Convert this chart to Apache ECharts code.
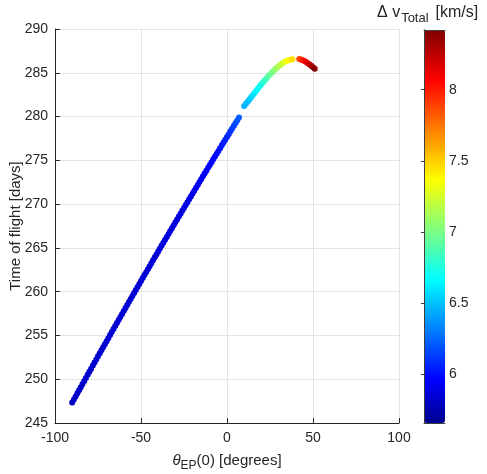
<!DOCTYPE html>
<html><head><meta charset="utf-8">
<script src="https://cdn.jsdelivr.net/npm/echarts@6/dist/echarts.min.js"></script>
<style>html,body{margin:0;padding:0;background:#fff}#c{width:487px;height:474px}</style>
</head><body><div id="c"></div>
<script>
// ---- data ----
const thetaBlue = [-90,-89,-88,-87,-86,-85,-84,-83,-82,-81,-80,-79,-78,-77,-76,-75,-74,-73,-72,-71,-70,-69,-68,-67,-66,-65,-64,-63,-62,-61,-60,-59,-58,-57,-56,-55,-54,-53,-52,-51,-50,-49,-48,-47,-46,-45,-44,-43,-42,-41,-40,-39,-38,-37,-36,-35,-34,-33,-32,-31,-30,-29,-28,-27,-26,-25,-24,-23,-22,-21,-20,-19,-18,-17,-16,-15,-14,-13,-12,-11,-10,-9,-8,-7,-6,-5,-4,-3,-2,-1,0,1,2,3,4,5,6,7];
const tofBlue = [247.33,247.68,248.03,248.39,248.74,249.09,249.45,249.80,250.15,250.50,250.86,251.21,251.56,251.91,252.26,252.61,252.96,253.30,253.65,254.00,254.35,254.69,255.04,255.39,255.74,256.08,256.43,256.77,257.12,257.46,257.80,258.14,258.49,258.83,259.17,259.51,259.85,260.19,260.53,260.87,261.21,261.55,261.89,262.23,262.57,262.90,263.24,263.58,263.92,264.25,264.59,264.92,265.26,265.59,265.92,266.25,266.59,266.92,267.25,267.58,267.92,268.25,268.58,268.91,269.24,269.57,269.90,270.22,270.55,270.88,271.21,271.53,271.86,272.19,272.52,272.84,273.17,273.49,273.82,274.14,274.46,274.78,275.11,275.43,275.75,276.07,276.39,276.71,277.03,277.35,277.67,277.99,278.31,278.63,278.95,279.26,279.58,279.90];
const dvBlue = [5.80,5.80,5.81,5.81,5.82,5.82,5.82,5.83,5.83,5.83,5.83,5.83,5.83,5.83,5.83,5.83,5.83,5.83,5.83,5.83,5.84,5.84,5.84,5.84,5.84,5.84,5.84,5.84,5.84,5.84,5.84,5.84,5.84,5.84,5.84,5.84,5.84,5.84,5.85,5.85,5.85,5.85,5.85,5.85,5.85,5.85,5.85,5.85,5.85,5.85,5.86,5.86,5.86,5.86,5.86,5.86,5.86,5.86,5.87,5.87,5.87,5.87,5.88,5.88,5.88,5.88,5.89,5.89,5.89,5.90,5.90,5.90,5.91,5.91,5.92,5.92,5.93,5.94,5.94,5.95,5.95,5.96,5.97,5.98,5.99,6.00,6.01,6.02,6.03,6.05,6.06,6.08,6.10,6.12,6.14,6.16,6.19,6.22];

const thetaArc = [10,11,12,13,14,15,16,17,18,19,20,21,22,23,24,25,26,27,28,29,30,31,32,33,34,35,36,37,38];
const tofArc = [281.2,281.45,281.7,281.95,282.2,282.45,282.7,282.95,283.2,283.45,283.7,283.93,284.15,284.38,284.6,284.8,285.0,285.2,285.4,285.58,285.75,285.9,286.05,286.18,286.3,286.38,286.45,286.5,286.55];
const dvArc = [6.45,6.47,6.49,6.51,6.54,6.57,6.60,6.63,6.66,6.69,6.72,6.76,6.80,6.85,6.90,6.94,6.98,7.02,7.06,7.10,7.14,7.18,7.22,7.26,7.30,7.33,7.37,7.41,7.45];

const thetaRed = [42,43,44,45,46,47,48,49,50,51];
const tofRed = [286.57,286.52,286.44,286.34,286.22,286.09,285.95,285.80,285.63,285.45];
const dvRed = [7.86,7.92,7.98,8.04,8.10,8.16,8.22,8.28,8.34,8.40];

const xTicks = [-100, -50, 0, 50, 100];
const yTicks = [245, 250, 255, 260, 265, 270, 275, 280, 285, 290];
const cbTicks = [6, 6.5, 7, 7.5, 8];
const cbMin = 5.655, cbMax = 8.42;

// ---- jet colormap (64 levels) ----
function jet(n) {
  const c = v => Math.max(0, Math.min(1, v));
  const out = [];
  for (let i = 0; i < n; i++) {
    const x = (i + 1) / n;
    const r = c(1.5 - Math.abs(4 * x - 3)), g = c(1.5 - Math.abs(4 * x - 2)), b = c(1.5 - Math.abs(4 * x - 1));
    out.push('rgb(' + Math.round(r * 255) + ',' + Math.round(g * 255) + ',' + Math.round(b * 255) + ')');
  }
  return out;
}

const pts = [];
[[thetaBlue, tofBlue, dvBlue], [thetaArc, tofArc, dvArc], [thetaRed, tofRed, dvRed]].forEach(([a, b, c]) => {
  a.forEach((t, i) => pts.push([t, b[i], c[i]]));
});

const FONT = 'Liberation Sans';
const TXT = '#262626';
const chart = echarts.init(document.getElementById('c'));
chart.setOption({
  animation: false,
  backgroundColor: '#fff',
  title: {
    text: '{m|\u0394 v}{s|Total}{k|[km/s]}',
    left: 377, top: 0, padding: 0,
    textStyle: {
      fontWeight: 'normal',
      rich: {
        m: { fontFamily: FONT, fontSize: 16, fontWeight: 'normal', color: TXT },
        k: { fontFamily: FONT, fontSize: 16, fontWeight: 'normal', color: TXT, padding: [0, 0, 0, 7] },
        s: { fontFamily: FONT, fontSize: 13, fontWeight: 'normal', color: TXT, padding: [12, 0, 0, 1] }
      }
    }
  },
  grid: [
    { left: 55, top: 29, width: 344, height: 394, outerBoundsMode: 'none', containLabel: false },
    { left: 424, top: 30, width: 21, height: 393, outerBoundsMode: 'none', containLabel: false }
  ],
  xAxis: [
    {
      gridIndex: 0, type: 'value', min: xTicks[0], max: xTicks[xTicks.length - 1], interval: 50,
      axisLine: { onZero: false, lineStyle: { color: TXT, width: 1 } },
      axisTick: { inside: true, length: 5, lineStyle: { color: TXT } },
      axisLabel: { color: TXT, fontFamily: FONT, fontSize: 14, margin: 8 },
      splitLine: { show: true, lineStyle: { color: '#e3e3e3', width: 1 } },
      name: '{th|\u03b8}{s|EP}{m|(0) [degrees]}', nameLocation: 'middle', nameGap: 27,
      nameTextStyle: {
        rich: {
          th: { fontFamily: FONT, fontSize: 15, fontStyle: 'italic', color: TXT },
          m: { fontFamily: FONT, fontSize: 15, color: TXT },
          s: { fontFamily: FONT, fontSize: 12, color: TXT, padding: [10, 0, 0, 0] }
        }
      }
    },
    { gridIndex: 1, type: 'value', min: 0, max: 1, position: 'bottom', z: 10,
      axisLine: { show: true, lineStyle: { color: '#404040' } }, axisTick: { show: false }, axisLabel: { show: false }, splitLine: { show: false } },
    { gridIndex: 1, type: 'value', min: 0, max: 1, position: 'top', z: 10,
      axisLine: { show: true, lineStyle: { color: '#404040' } }, axisTick: { show: false }, axisLabel: { show: false }, splitLine: { show: false } }
  ],
  yAxis: [
    {
      gridIndex: 0, type: 'value', min: yTicks[0], max: yTicks[yTicks.length - 1], interval: 5,
      axisLine: { show: true, onZero: false, lineStyle: { color: TXT, width: 1 } },
      axisTick: { show: true, inside: true, length: 5, lineStyle: { color: TXT } },
      axisLabel: { color: TXT, fontFamily: FONT, fontSize: 14, margin: 7 },
      splitLine: { show: true, lineStyle: { color: '#e3e3e3', width: 1 } },
      name: 'Time of flight [days]', nameLocation: 'middle', nameGap: 32, nameMoveOverlap: false,
      nameTextStyle: { fontFamily: FONT, fontSize: 15, color: TXT }
    },
    {
      gridIndex: 1, type: 'value', min: cbMin, max: cbMax, position: 'right', z: 10,
      axisLine: { show: true, lineStyle: { color: '#404040' } },
      axisTick: { show: true, inside: true, length: 3, customValues: cbTicks, lineStyle: { color: '#404040' } },
      axisLabel: { show: true, customValues: cbTicks, color: TXT, fontFamily: FONT, fontSize: 14, margin: 4 },
      splitLine: { show: false }
    },
    {
      gridIndex: 1, type: 'value', min: cbMin, max: cbMax, position: 'left', z: 10,
      axisLine: { show: true, lineStyle: { color: '#404040' } },
      axisTick: { show: false }, axisLabel: { show: false }, splitLine: { show: false }
    }
  ],
  visualMap: {
    type: 'continuous', min: cbMin, max: cbMax, dimension: 2, seriesIndex: 0,
    calculable: false, text: null, showLabel: false, padding: 0,
    left: 424, top: 30, itemWidth: 21, itemHeight: 393,
    inRange: { color: jet(64) }
  },
  series: [
    {
      type: 'scatter', xAxisIndex: 0, yAxisIndex: 0, symbol: 'circle', symbolSize: 6,
      data: pts, itemStyle: { opacity: 1 }
    }
  ]
});
</script></body></html>
